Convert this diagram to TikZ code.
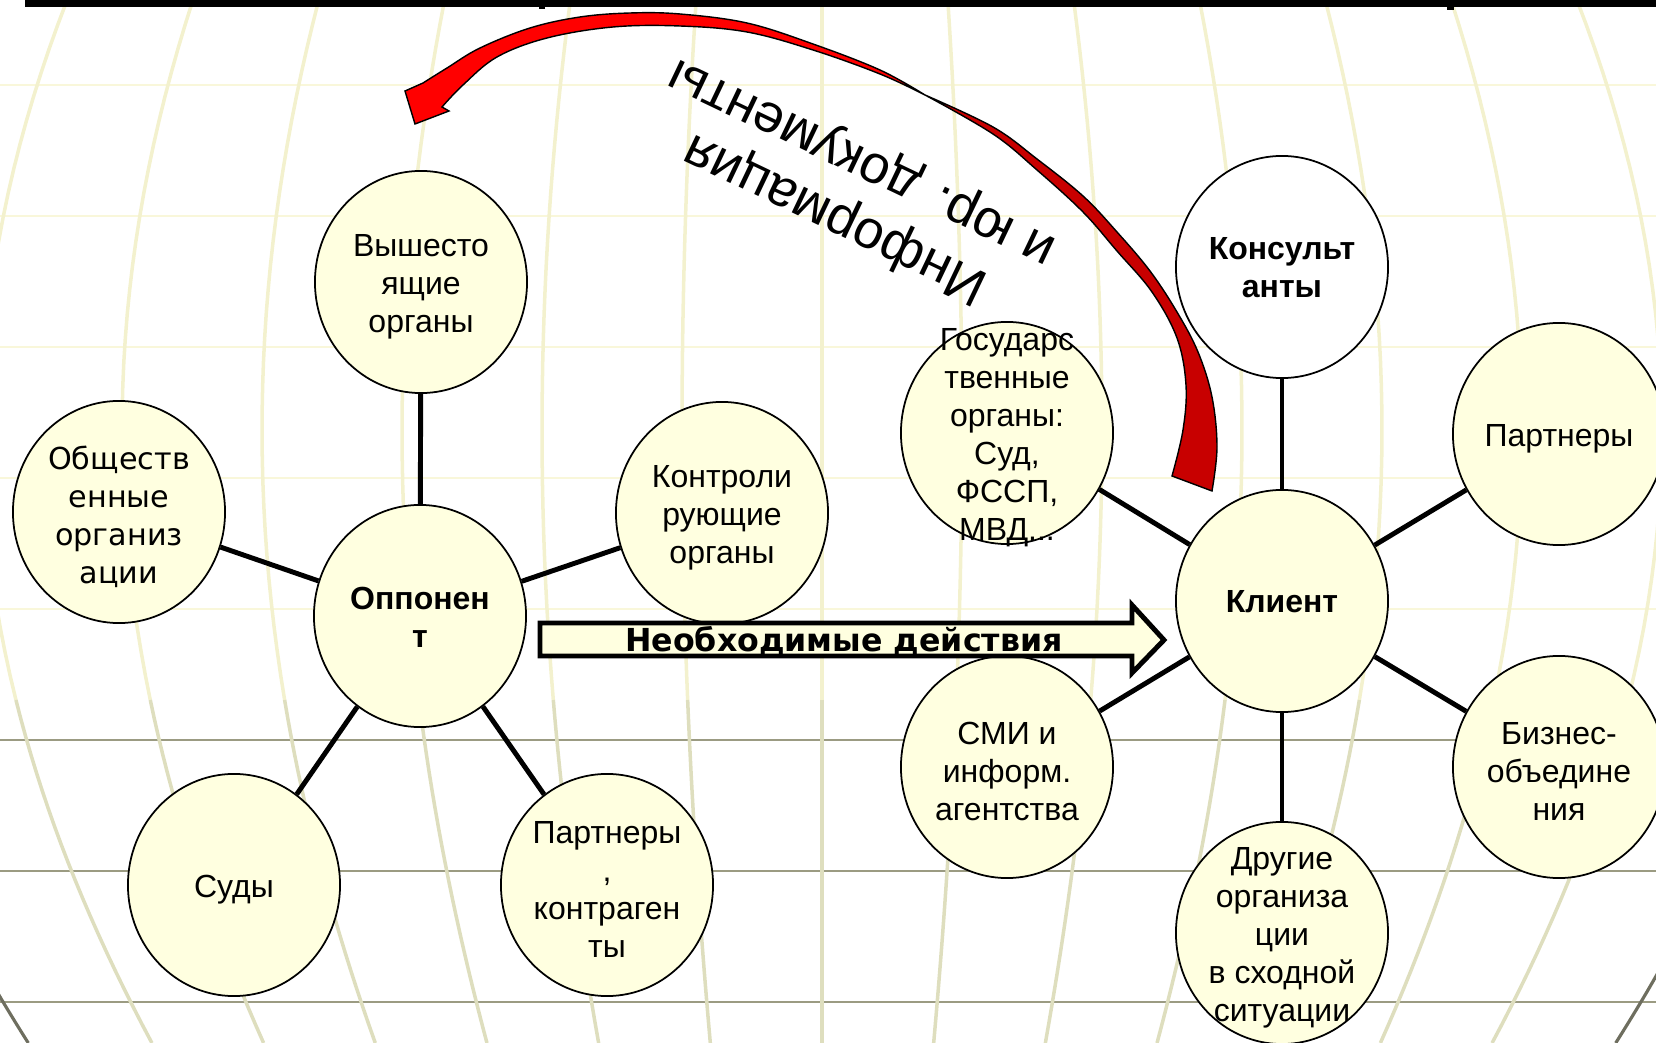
\documentclass[tikz,border=0pt]{standalone}
\usepackage{fontspec}
\setmainfont{Liberation Sans}
\newfontfamily\vfont{DejaVu Sans}
\usetikzlibrary{shapes.geometric}

\definecolor{cream}{RGB}{255,255,224}
\definecolor{gridpale}{RGB}{249,247,218}
\definecolor{gridmer}{RGB}{243,241,206}
\definecolor{gridmerdark}{RGB}{222,222,190}
\definecolor{griddark}{RGB}{155,155,130}
\definecolor{globeline}{RGB}{110,110,95}
\definecolor{frontred}{RGB}{255,0,0}
\definecolor{backred}{RGB}{200,0,0}

\tikzset{
  orgnode/.style={ellipse, draw=black, line width=0.5pt, fill=cream,
    minimum width=2.12cm, minimum height=2.22cm, inner sep=0pt},
  atext/.style={font=\fontsize{9.1}{10.8}\selectfont, align=center, inner sep=0pt, yshift=-0.045cm},
  btext/.style={font=\bfseries\fontsize{9.1}{10.8}\selectfont, align=center, inner sep=0pt, yshift=-0.01cm},
  vtext/.style={font=\vfont\fontsize{8.6}{10.8}\selectfont, align=center, inner sep=0pt, yshift=-0.045cm},
  link/.style={line width=1.4pt},
}

\begin{document}
\begin{tikzpicture}[x=0.01cm,y=-0.01cm]
        \useasboundingbox (0,0) rectangle (1656,1043);

        % Globe grid
        \begin{scope}
          \clip (0,0) rectangle (1656,1043);
          \foreach \y in {85,216,347,478,609}
            \draw[gridpale,line width=0.8pt] (0,\y) -- (1656,\y);
          \foreach \y in {740,871,1002}
            \draw[griddark,line width=0.8pt] (0,\y) -- (1656,\y);
          \foreach \k in {-6,...,6} {
            \draw[gridmer,line width=1pt,domain=0:700,samples=30,variable=\t]
              plot ({822+140*(\k)*cos((\t-430)*0.0605)},\t);
            \draw[gridmerdark,line width=1pt,domain=700:1043,samples=20,variable=\t]
              plot ({822+140*(\k)*cos((\t-430)*0.0605)},\t);
          }
          \foreach \s in {-995,995}
            \draw[globeline,line width=0.9pt,domain=850:1043,samples=20,variable=\t]
              plot ({822+\s*cos((\t-430)*0.0605)},\t);
        \end{scope}

        % Title underline
        \fill (25,0) rectangle (1656,7);
        \fill (539,7) rectangle (545,9);
        \fill (1447,7) rectangle (1454,10);

        % Opponent side
        \node[orgnode] (higher) at (421,282) {};
        \node[atext] (higher-t) at (higher) {Вышесто\\ящие\\органы};
        \node[orgnode] (public) at (119,512) {};
        \node[vtext] (public-t) at (public) {Обществ\\енные\\организ\\ации};
        \node[orgnode] (opp) at (420,616) {};
        \node[btext] (opp-t) at (opp) {Оппонен\\т};
        \node[orgnode] (control) at (722,513) {};
        \node[atext] (control-t) at (control) {Контроли\\рующие\\органы};
        \node[orgnode] (courts) at (234,885) {};
        \node[atext] (courts-t) at (courts) {Суды};
        \node[orgnode] (contr) at (607,885) {};
        \node[atext] (contr-t) at (contr) {Партнеры\\,\\контраген\\ты};

        % Client side
        \node[orgnode] (gov) at (1007,433) {};
        \node[atext] (gov-t) at (gov) {Государс\\твенные\\органы:\\Суд,\\ФССП,\\МВД...};
        \node[orgnode,fill=white] (cons) at (1282,267) {};
        \node[btext] (cons-t) at (cons) {Консульт\\анты};
        \node[orgnode] (partners) at (1559,434) {};
        \node[atext] (partners-t) at (partners) {Партнеры};
        \node[orgnode] (client) at (1282,601) {};
        \node[btext] (client-t) at (client) {Клиент};
        \node[orgnode] (media) at (1007,767) {};
        \node[atext] (media-t) at (media) {СМИ и\\информ.\\агентства};
        \node[orgnode] (biz) at (1559,767) {};
        \node[atext] (biz-t) at (biz) {Бизнес-\\объедине\\ния};
        \node[orgnode] (other) at (1282,933) {};
        \node[atext] (other-t) at (other) {Другие\\организа\\ции\\в сходной\\ситуации};

        % Links
        \draw[link] (opp) -- (higher);
        \draw[link] (opp) -- (public);
        \draw[link] (opp) -- (control);
        \draw[link] (opp) -- (courts);
        \draw[link] (opp) -- (contr);
        \draw[link] (client) -- (cons);
        \draw[link] (client) -- (gov);
        \draw[link] (client) -- (partners);
        \draw[link] (client) -- (media);
        \draw[link] (client) -- (biz);
        \draw[link] (client) -- (other);

        % Curved red arrow
        \filldraw[fill=backred,draw=black,line width=0.4pt]
          plot[smooth,tension=0.6] coordinates {(925,95) (993,127) (1037,159) (1083,196) (1117,232) (1150,271) (1177,312) (1198,352) (1212,397) (1217,447) (1212,491)}
          -- plot[smooth,tension=0.6] coordinates {(1172,476) (1183,430) (1186,385) (1177,338) (1152,292) (1117,251) (1083,212) (1037,170) (993,134) (925,95)}
          -- cycle;
        \filldraw[fill=frontred,draw=black,line width=0.4pt]
          plot[smooth,tension=0.6] coordinates {(925,95) (880,70) (813,44) (747,23) (680,14) (630,13) (580,17) (530,28) (480,48) (447,68) (423,83)}
          -- (405,91) -- (415,124) -- (449,111)
          -- plot[smooth,tension=0.6] coordinates {(442,107) (463,85) (497,57) (547,38) (613,27) (680,26) (747,32) (813,50) (880,74) (925,95)}
          -- cycle;
        \node[rotate=154.5,font=\fontsize{15.3}{17.4}\selectfont,align=center,inner sep=0pt] (info) at (849,190) {Информация\\и юр. документы};

        % Block arrow
        \filldraw[fill=cream,draw=black,line width=1.4pt]
          (540,623) -- (1132,623) -- (1132,605) -- (1164,640) -- (1132,673) -- (1132,656) -- (540,656) -- cycle;
        \node[anchor=base,font=\vfont\bfseries\fontsize{9}{10}\selectfont,inner sep=0pt] (actions) at (844,652) {Необходимые действия};
\end{tikzpicture}
\end{document}
